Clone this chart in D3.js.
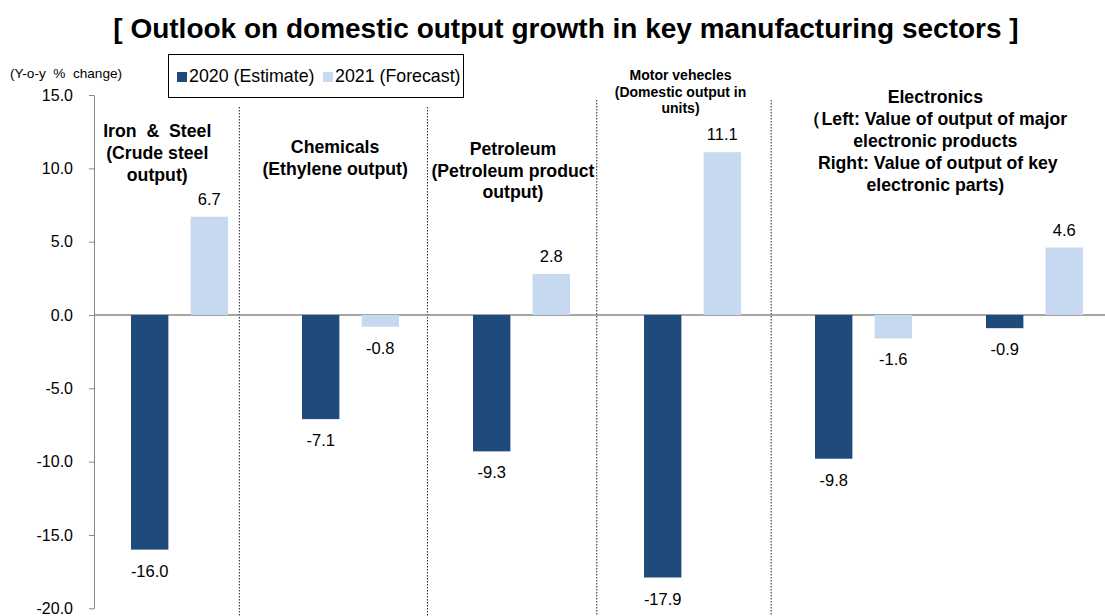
<!DOCTYPE html>
<html>
<head>
<meta charset="utf-8">
<script src="https://cdn.jsdelivr.net/npm/d3@7"></script>
<style>
  body { margin: 0; background: #fff; }
  svg text { font-family: "Liberation Sans", Arial, sans-serif; fill: #000; }
</style>
</head>
<body>
<div id="chart"></div>
<script>
const categories = ["iron", "chemicals", "petroleum", "motor", "elecLeft", "elecRight"];
const values2020 = [-16.0, -7.1, -9.3, -17.9, -9.8, -0.9];
const values2021 = [6.7, -0.8, 2.8, 11.1, -1.6, 4.6];
const seriesNames = ["2020 (Estimate)", "2021 (Forecast)"];
const yTicks = [15, 10, 5, 0, -5, -10, -15, -20];
// separators sit between groups, in group units
const separators = [0.85, 1.95, 2.94, 3.96];
const sectorLabels = [
    { at: 0.37, lines: ["Iron  &  Steel", "(Crude steel", "output)"], top: 137, size: 17.7, gap: 22 },
    { at: 1.41, lines: ["Chemicals", "(Ethylene output)"], top: 153, size: 17.7, gap: 21.5 },
    { at: 2.45, lines: ["Petroleum", "(Petroleum product", "output)"], top: 155, size: 17.7, gap: 21.5 },
    { at: 3.43, lines: ["Motor vehecles", "(Domestic output in", "units)"], top: 80, size: 14, gap: 16.5 },
    { at: 4.92, lines: ["Electronics", "（Left: Value of output of major", "electronic products", " Right: Value of output of key", "electronic parts)"], top: 103, size: 17.7, gap: 22 }
];

const width = 1105;
const height = 616;
const margin = { top: 95, left: 94 };
const groupWidth = 171;

const svg = d3.select("#chart")
    .append("svg")
    .attr("width", width)
    .attr("height", height);

const colors = ["#1f4a7c", "#c6d9f0"];
const fmt = d3.formatLocale({ decimal: ".", thousands: ",", grouping: [3], currency: ["", ""], minus: "-" }).format(".1f");

const xScale = d3.scaleBand()
    .domain(categories)
    .range([margin.left, margin.left + groupWidth * categories.length]);

const xSub = d3.scaleBand()
    .domain([0, 1])
    .range([37, 134])
    .paddingInner(0.373);

const xUnit = d3.scaleLinear()
    .domain([0, categories.length])
    .range([margin.left, margin.left + groupWidth * categories.length]);

const yScale = d3.scaleLinear()
    .domain([-20, 15])
    .range([608.3, margin.top]);

// title
svg.append("text")
    .attr("x", 566)
    .attr("y", 38)
    .attr("text-anchor", "middle")
    .style("font-size", "28px")
    .style("font-weight", "bold")
    .text("[ Outlook on domestic output growth in key manufacturing sectors ]");

svg.append("text")
    .attr("x", 10)
    .attr("y", 78)
    .style("font-size", "13.6px")
    .attr("xml:space", "preserve")
    .text("(Y-o-y  %  change)");

// separators
svg.selectAll(".sep")
    .data(separators)
    .enter()
    .append("line")
    .attr("x1", d => xUnit(d))
    .attr("x2", d => xUnit(d))
    .attr("y1", d => d > 2.5 ? 100 : 107)
    .attr("y2", height)
    .attr("stroke", "#222")
    .attr("stroke-width", 1)
    .attr("stroke-dasharray", "1.5,1.5");

// y axis
const yAxis = svg.append("g")
    .attr("transform", `translate(${margin.left},0)`)
    .call(d3.axisLeft(yScale).tickValues(yTicks).tickFormat(fmt).tickSize(5).tickSizeOuter(0));
yAxis.select(".domain").attr("stroke", "#888");
yAxis.selectAll(".tick line").attr("stroke", "#888");
yAxis.selectAll(".tick text")
    .attr("x", -21)
    .style("font-size", "16px")
    .style("font-family", "'Liberation Sans', Arial, sans-serif")
    .attr("fill", "#000");

// zero line
svg.append("line")
    .attr("x1", margin.left)
    .attr("x2", width)
    .attr("y1", yScale(0))
    .attr("y2", yScale(0))
    .attr("stroke", "#888")
    .attr("stroke-width", 1.3);

const rows = categories.map((c, i) => ({ cat: c, vals: [values2020[i], values2021[i]] }));

const groups = svg.selectAll(".grp")
    .data(rows)
    .enter()
    .append("g")
    .attr("transform", d => `translate(${xScale(d.cat)},0)`);

groups.selectAll("rect")
    .data(d => d.vals.map((v, s) => ({ v, s })))
    .enter()
    .append("rect")
    .attr("x", d => xSub(d.s))
    .attr("width", xSub.bandwidth())
    .attr("y", d => yScale(Math.max(0, d.v)))
    .attr("height", d => Math.abs(yScale(d.v) - yScale(0)))
    .attr("fill", d => colors[d.s]);

groups.selectAll(".val")
    .data(d => d.vals.map((v, s) => ({ v, s })))
    .enter()
    .append("text")
    .attr("x", d => xSub(d.s) + xSub.bandwidth() / 2)
    .attr("y", d => d.v >= 0 ? yScale(d.v) - 12 : yScale(d.v) + 27)
    .attr("text-anchor", "middle")
    .style("font-size", "16.5px")
    .text(d => fmt(d.v));

// sector labels
sectorLabels.forEach(l => {
    const t = svg.append("text")
        .attr("text-anchor", "middle")
        .attr("xml:space", "preserve")
        .style("font-size", l.size + "px")
        .style("font-weight", "bold");
    l.lines.forEach((line, i) => {
        t.append("tspan")
            .attr("x", xUnit(l.at))
            .attr("y", l.top + i * l.gap)
            .text(line);
    });
});

// legend
const legend = svg.append("g");
legend.append("rect")
    .attr("x", 168.5)
    .attr("y", 54.5)
    .attr("width", 295)
    .attr("height", 43)
    .attr("fill", "#fff")
    .attr("stroke", "#000")
    .attr("stroke-width", 1);

const legendX = [177, 323];
seriesNames.forEach((name, i) => {
    legend.append("rect")
        .attr("x", legendX[i])
        .attr("y", 72)
        .attr("width", 10)
        .attr("height", 10)
        .attr("fill", colors[i]);
    legend.append("text")
        .attr("x", legendX[i] + 12)
        .attr("y", 82)
        .style("font-size", "17.8px")
        .text(name);
});
</script>
</body>
</html>
